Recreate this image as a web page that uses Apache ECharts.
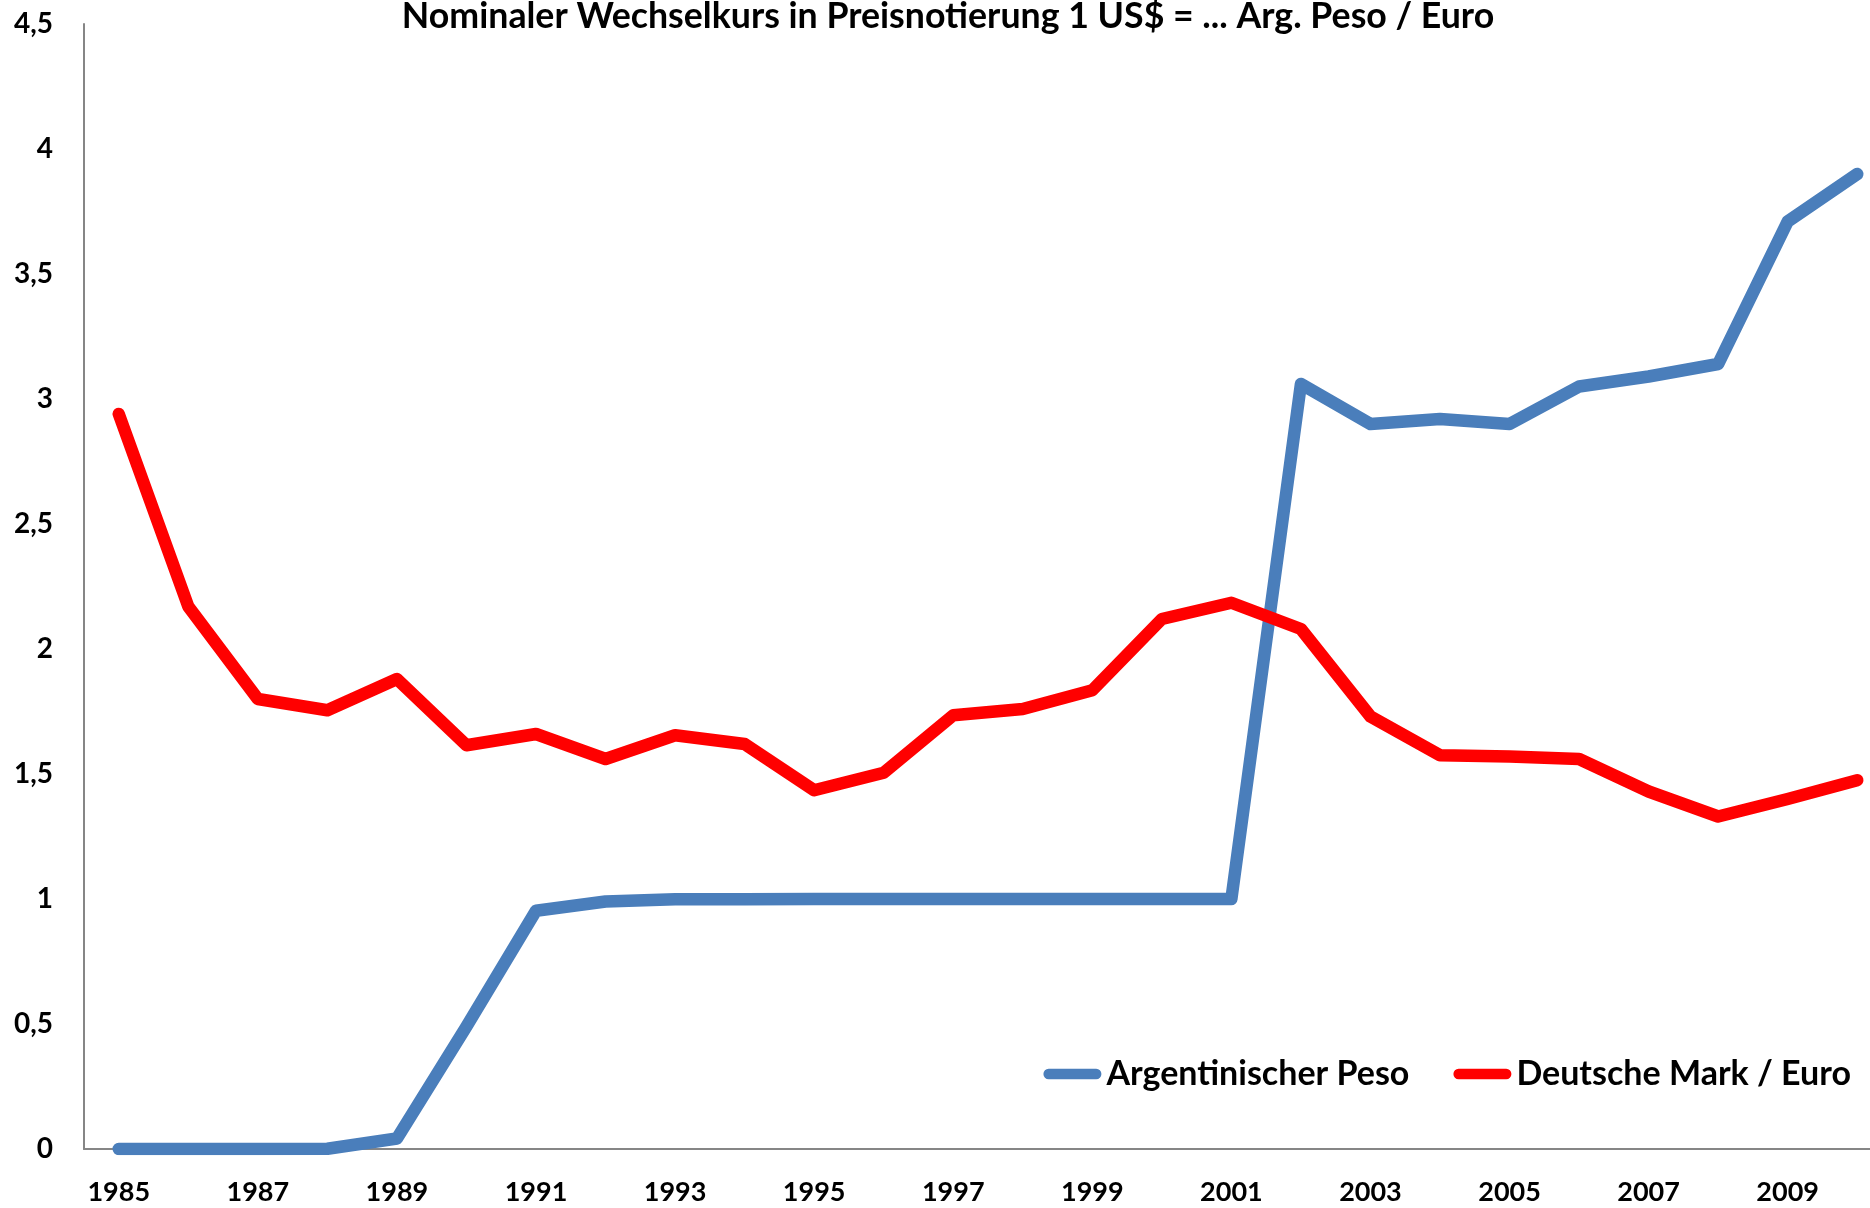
<!DOCTYPE html>
<html>
<head>
<meta charset="utf-8">
<script src="https://cdn.jsdelivr.net/npm/echarts@6/dist/echarts.min.js"></script>
<style>
  html, body { margin: 0; padding: 0; background: #fff; }
  #myChart { width: 1870px; height: 1208px; }
</style>
</head>
<body>
<div id="myChart"></div>
<script>
// Jahre
var years = ['1985', '1986', '1987', '1988', '1989', '1990', '1991', '1992', '1993', '1994',
  '1995', '1996', '1997', '1998', '1999', '2000', '2001', '2002', '2003', '2004',
  '2005', '2006', '2007', '2008', '2009', '2010']
// 1 US$ = ... Arg. Peso
var argPeso = [0.0001, 0.0001, 0.0002, 0.001, 0.042, 0.49, 0.953, 0.99, 0.999, 0.999,
  1.0, 1.0, 1.0, 1.0, 1.0, 1.0, 1.0, 3.06, 2.90, 2.92,
  2.90, 3.05, 3.09, 3.14, 3.71, 3.90]
// 1 US$ = ... DM (bzw. Euro in DM)
var dmEuro = [2.94, 2.17, 1.80, 1.755, 1.88, 1.615, 1.66, 1.56, 1.655, 1.62,
  1.435, 1.505, 1.735, 1.76, 1.835, 2.12, 2.185, 2.08, 1.73, 1.575,
  1.57, 1.56, 1.43, 1.33, 1.40, 1.475]
var seriesNames = ['Argentinischer Peso', 'Deutsche Mark / Euro']
var titleText = 'Nominaler Wechselkurs in Preisnotierung 1 US$ = ... Arg. Peso / Euro'

var fontFamily = 'Lato, "Open Sans", sans-serif'
var legendIcon = 'path://M5,0 L51,0 A5,5 0 0 1 51,10 L5,10 A5,5 0 0 1 5,0 Z'

var myChart = echarts.init(document.getElementById('myChart'), null, { renderer: 'canvas' })
myChart.setOption({
  animation: false,
  backgroundColor: '#fff',
  title: {
    text: titleText,
    left: 948,
    textAlign: 'center',
    top: -2,
    padding: 0,
    textStyle: { fontFamily: fontFamily, fontWeight: 'bold', fontSize: 35.7, color: '#000' }
  },
  legend: {
    data: seriesNames,
    right: 14,
    top: 1052,
    itemWidth: 58,
    itemHeight: 12,
    itemGap: 44,
    icon: legendIcon,
    textStyle: { fontFamily: fontFamily, fontWeight: 'bold', fontSize: 34, color: '#000' }
  },
  // Diagramm rechts abgeschnitten wie im Original
  grid: { left: 84, right: -22, top: 24, bottom: 59, outerBoundsMode: 'none' },
  xAxis: {
    type: 'category',
    data: years,
    boundaryGap: true,
    axisLine: { lineStyle: { color: '#868686', width: 2 } },
    axisTick: { show: false },
    axisLabel: {
      interval: 1,
      margin: 30,
      fontFamily: fontFamily,
      fontWeight: 'bold',
      fontSize: 27,
      color: '#000'
    },
    splitLine: { show: false }
  },
  yAxis: {
    type: 'value',
    min: 0,
    max: 4.5,
    interval: 0.5,
    axisLine: { show: true, lineStyle: { color: '#868686', width: 2 } },
    axisTick: { show: false },
    splitLine: { show: false },
    axisLabel: {
      margin: 31,
      fontFamily: fontFamily,
      fontWeight: 'bold',
      fontSize: 28,
      color: '#000',
      formatter: function (v) { return String(v).replace('.', ',') }
    }
  },
  series: [
    {
      name: seriesNames[0],
      type: 'line',
      data: argPeso,
      symbol: 'none',
      color: '#4A7EBB',
      lineStyle: { width: 12.5, color: '#4A7EBB', cap: 'round', join: 'round' }
    },
    {
      name: seriesNames[1],
      type: 'line',
      data: dmEuro,
      symbol: 'none',
      color: '#FF0000',
      lineStyle: { width: 12.5, color: '#FF0000', cap: 'round', join: 'round' }
    }
  ]
})
</script>
</body>
</html>
